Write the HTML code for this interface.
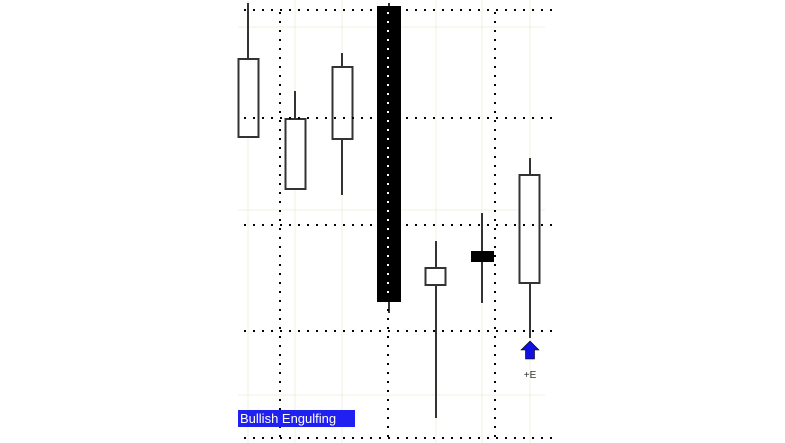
<!DOCTYPE html>
<html><head><style>body{margin:0;background:#fff}svg{display:block}</style></head><body>
<svg width="785" height="443" xmlns="http://www.w3.org/2000/svg">
<g stroke="#f0efe0" stroke-width="1">
<line x1="248" y1="0" x2="248" y2="443"/><line x1="295" y1="0" x2="295" y2="443"/><line x1="342" y1="0" x2="342" y2="443"/><line x1="436" y1="0" x2="436" y2="443"/><line x1="482" y1="0" x2="482" y2="443"/><line x1="530" y1="0" x2="530" y2="443"/>
<line x1="238" y1="27" x2="545" y2="27"/><line x1="238" y1="210" x2="545" y2="210"/><line x1="238" y1="395" x2="545" y2="395"/>
</g>
<g stroke="#333" stroke-width="2" fill="#fff">
<line x1="248" y1="3" x2="248" y2="137"/><rect x="238.5" y="59" width="20" height="78"/>
<line x1="295" y1="91" x2="295" y2="189"/><rect x="285.5" y="119" width="20" height="70"/>
<line x1="342" y1="53" x2="342" y2="195"/><rect x="332.5" y="67" width="20" height="72"/>
<line x1="389" y1="3" x2="389" y2="313"/><rect x="378" y="7" width="22" height="294" fill="#000" stroke="#000"/>
<line x1="436" y1="241" x2="436" y2="418"/><rect x="425.5" y="268" width="20" height="17"/>
<line x1="482" y1="213" x2="482" y2="303"/><rect x="472" y="252" width="21" height="9" fill="#000" stroke="#000"/>
<line x1="530" y1="158" x2="530" y2="338"/><rect x="519.5" y="175" width="20" height="108"/>
</g>
<g stroke="#000" stroke-width="2" stroke-dasharray="2,7">
<line x1="244" y1="10" x2="552" y2="10"/><line x1="244" y1="118" x2="552" y2="118"/><line x1="244" y1="225" x2="552" y2="225"/><line x1="244" y1="331" x2="552" y2="331"/><line x1="244" y1="438" x2="552" y2="438"/>
<line x1="280" y1="12" x2="280" y2="443"/><line x1="388" y1="12" x2="388" y2="443"/><line x1="495" y1="12" x2="495" y2="443"/>
</g>
<g stroke="#fff" stroke-width="2" stroke-dasharray="2,7"><line x1="388" y1="12" x2="388" y2="300"/></g>
<polygon points="530,341 539,350 534.5,350 534.5,359 525.5,359 525.5,350 521,350" fill="#1010e0" stroke="#000" stroke-width="0.6"/>
<text x="530" y="378" font-family="Liberation Sans, sans-serif" font-size="10" text-anchor="middle" fill="#333">+E</text>
<rect x="238" y="410" width="117" height="17" fill="#2020f0"/>
<text x="240" y="423" font-family="Liberation Sans, sans-serif" font-size="13" fill="#fff">Bullish Engulfing</text>
</svg>
</body></html>
